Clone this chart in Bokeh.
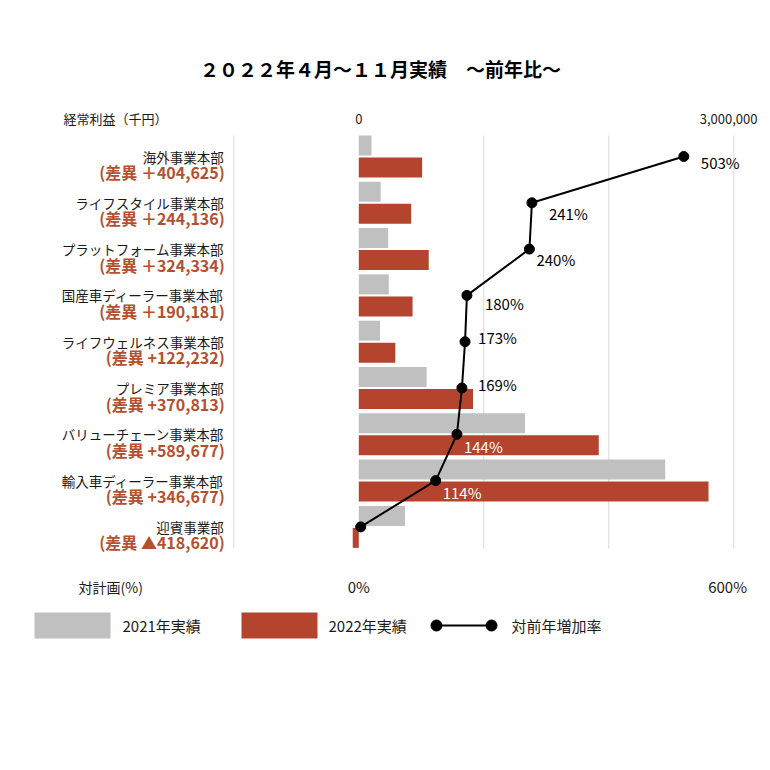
from bokeh.plotting import figure
from bokeh.models import Range1d, ColumnDataSource
from bokeh.core.properties import value
from bokeh.embed import file_html
from bokeh.resources import INLINE

# ---------------- data ----------------
categories = ["海外事業本部", "ライフスタイル事業本部", "プラットフォーム事業本部",
              "国産車ディーラー事業本部", "ライフウェルネス事業本部", "プレミア事業本部",
              "バリューチェーン事業本部", "輸入車ディーラー事業本部", "迎賓事業部"]
diff_labels = ["(差異 ＋404,625)", "(差異 ＋244,136)", "(差異 ＋324,334)",
               "(差異 ＋190,181)", "(差異 +122,232)", "(差異 +370,813)",
               "(差異 +589,677)", "(差異 +346,677)", "(差異 ▲418,620)"]
profit_2021 = [102000, 175000, 235000, 240000, 170000, 543000, 1330000, 2451000, 370000]
profit_2022 = [506625, 419136, 559334, 430181, 292232, 913813, 1919677, 2797677, -48620]
growth_pct = [520, 277, 273, 173, 170, 165, 157, 123, 3]
growth_labels = ["503%", "241%", "240%", "180%", "173%", "169%", "144%", "114%", ""]
grid_values = [-1000000, 1000000, 2000000, 3000000]

# ---------------- layout helpers ----------------
FONT = value("Noto Sans CJK JP")
W = H = 762
OFF = 0
X0_PX = 358.3            # page pixel of value 0
UNITS_PER_PX = 8000.0    # 1,000,000 per 125 px
PCT_UNITS = 5000.0       # 600% == 3,000,000
Y0_PX = 156.0            # page pixel of first row centre
ROW_PX = 46.3

def px_x(px):
    return (px - X0_PX) * UNITS_PER_PX

def px_y(py):
    return (py - Y0_PX) / ROW_PX

x_start, x_end = px_x(OFF), px_x(OFF + W)
y_top, y_bottom = px_y(OFF), px_y(OFF + H)

p = figure(width=W, height=H, output_backend="svg", toolbar_location=None,
           x_range=Range1d(x_start, x_end), y_range=Range1d(y_bottom, y_top),
           x_axis_location=None, y_axis_location=None, min_border=0,
           outline_line_color=None, background_fill_color="white",
           border_fill_color="white")
p.extra_x_ranges = {"pct": Range1d(x_start / PCT_UNITS, x_end / PCT_UNITS)}
p.grid.visible = False

rows = list(range(len(categories)))
bar_h = 20 / ROW_PX
shift = 11 / ROW_PX

# grid lines
p.segment(x0=grid_values, x1=grid_values, y0=[px_y(135)] * len(grid_values),
          y1=[px_y(548)] * len(grid_values), line_color="#d9d9d9", line_width=1)

# bars
src = ColumnDataSource(dict(
    y21=[r - shift for r in rows], y22=[r + shift for r in rows],
    v21=profit_2021, v22=profit_2022))
p.hbar(y="y21", left=0, right="v21", height=bar_h, source=src,
       fill_color="#c0c0c0", line_color=None)
p.hbar(y="y22", left=0, right="v22", height=bar_h, source=src,
       fill_color="#b5442e", line_color=None)

# growth line
p.line(x=growth_pct, y=rows, x_range_name="pct", line_color="black", line_width=2)
p.scatter(x=growth_pct, y=rows, x_range_name="pct", size=10,
          fill_color="black", line_color="black")

lab_dx = [17, 17, 7, 18, 13, 16, 7, 7, 0]
lab_dy = [6, 11, 10, 8, -4, -4, 12, 12, 0]
lab_col = ["black"] * 6 + ["white", "white", "black"]
p.text(x=growth_pct, y=rows, text=growth_labels, x_range_name="pct",
       x_offset=lab_dx, y_offset=lab_dy, text_color=lab_col,
       text_font=FONT, text_font_size="15px", text_align="left",
       text_baseline="middle")

# category labels
p.text(x=[-1000000] * len(rows), y=rows, text=categories, x_offset=-10,
       y_offset=0, text_font=FONT, text_font_size="13.5px", text_color="#1a1a1a",
       text_align="right", text_baseline="middle")
p.text(x=[-1000000] * len(rows), y=rows, text=diff_labels, x_offset=-9,
       y_offset=15.5, text_font=FONT, text_font_size="16px", text_font_style="bold",
       text_color="#b4502f", text_align="right", text_baseline="middle")

# title
p.text(x=[px_x(380)], y=[px_y(68)], text=["２０２２年４月～１１月実績　～前年比～"],
       text_font=FONT, text_font_size="19px", text_font_style="bold",
       text_color="black", text_align="center", text_baseline="middle")

# top axis texts
p.text(x=[px_x(63)], y=[px_y(118)], text=["経常利益（千円）"], text_font=FONT,
       text_font_size="13px", text_color="#1a1a1a", text_align="left",
       text_baseline="middle")
p.text(x=[0], y=[px_y(118)], text=["0"], text_font=FONT, text_font_size="13px",
       text_color="#1a1a1a", text_align="center", text_baseline="middle")
p.text(x=[px_x(757)], y=[px_y(118)], text=["3,000,000"], text_font=FONT,
       text_font_size="13px", text_color="#1a1a1a", text_align="right",
       text_baseline="middle")

# bottom axis texts
p.text(x=[px_x(78)], y=[px_y(586)], text=["対計画(%)"], text_font=FONT,
       text_font_size="14px", text_color="#1a1a1a", text_align="left",
       text_baseline="middle")
p.text(x=[0, 590], y=[px_y(586)] * 2, text=["0%", "600%"], x_range_name="pct",
       text_font=FONT, text_font_size="15px", text_color="#1a1a1a",
       text_align="center", text_baseline="middle")

# legend
ly = px_y(625)
lh = 13 / ROW_PX
p.quad(left=[px_x(34), px_x(241)], right=[px_x(110), px_x(317)],
       top=[ly - lh, ly - lh], bottom=[ly + lh, ly + lh],
       fill_color=["#c0c0c0", "#b5442e"], line_color=None)
p.line(x=[px_x(436), px_x(491)], y=[ly, ly], line_color="black", line_width=2)
p.scatter(x=[px_x(436), px_x(491)], y=[ly, ly], size=11, fill_color="black",
          line_color="black")
p.text(x=[px_x(122), px_x(328), px_x(511)], y=[ly] * 3,
       text=["2021年実績", "2022年実績", "対前年増加率"], text_font=FONT,
       text_font_size="15px", text_color="#1a1a1a", text_align="left",
       text_baseline="middle")

open("out.html", "w").write(file_html(p, INLINE))
